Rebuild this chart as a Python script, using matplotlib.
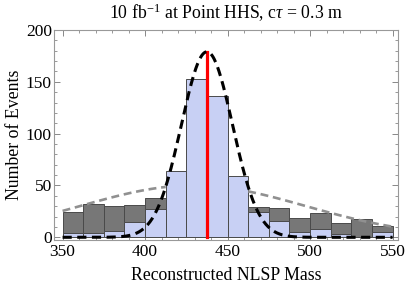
import matplotlib
matplotlib.use("Agg")
import matplotlib.pyplot as plt
import numpy as np

plt.rcParams['font.family'] = ['Liberation Serif', 'DejaVu Serif']
plt.rcParams['mathtext.fontset'] = 'custom'
plt.rcParams['mathtext.rm'] = 'Liberation Serif'
plt.rcParams['mathtext.it'] = 'Liberation Serif:italic'

# histogram bins (12.5 GeV wide)
bin_edges = [350, 362.5, 375, 387.5, 400, 412.5, 425, 437.5, 450,
             462.5, 475, 487.5, 500, 512.5, 525, 537.5, 550]
background = [24.2, 31.9, 30.0, 31.0, 37.7, 46, 48, 47, 44,
              28.9, 28.0, 19.0, 23.1, 13.9, 18.0, 11.0]
signal = [4.5, 4.5, 6.4, 15.1, 27.7, 63.8, 152.6, 136.0, 59.3,
          24.8, 15.8, 5.4, 7.7, 2.9, 0.0, 5.4]

# fitted curves
sig_amp, sig_mean, sig_width = 179.0, 437.5, 15.5
bkg_amp, bkg_mean, bkg_width = 50.0, 429.0, 68.0
window = (412.5, 462.5)
peak_mass = 437.5

def gauss(x, a, m, s):
    return a * np.exp(-(x - m) ** 2 / (2 * s ** 2))

fig = plt.figure(figsize=(4.05, 2.89), dpi=100)
ax = fig.add_axes([54/405, 1-240/289, (398-54)/405, (240-30)/289])

edges = np.array(bin_edges)
widths = np.diff(edges)
ax.bar(edges[:-1], background, width=widths, align='edge', color='#777777',
       edgecolor='#4a4a4a', linewidth=0.7, zorder=2)
ax.bar(edges[:-1], signal, width=widths, align='edge', color='#c8d0f4',
       edgecolor='#4a4a4a', linewidth=0.7, zorder=3)

# background fit in the sidebands
xl = np.linspace(350, window[0], 100)
xr = np.linspace(window[1], 550, 100)
for xs in (xl, xr):
    ax.plot(xs, gauss(xs, bkg_amp, bkg_mean, bkg_width), color='#909090',
            lw=1.9, dashes=(3, 1.8), zorder=4)

# signal fit
xs = np.linspace(350, 550, 600)
ax.plot(xs, gauss(xs, sig_amp, sig_mean, sig_width), color='black',
        lw=2.2, dashes=(3, 1.8), zorder=6)

ax.plot([peak_mass, peak_mass], [0, sig_amp], color='red', lw=2.3, zorder=5)

ax.set_xlim(344.8, 553.3)
ax.set_ylim(-2.6, 200)
ax.set_xticks([350, 400, 450, 500, 550])
ax.set_xticks(np.arange(350, 551, 10), minor=True)
ax.set_yticks([0, 50, 100, 150, 200])
ax.set_yticks(np.arange(0, 201, 10), minor=True)
ax.tick_params(which='both', direction='in', top=True, right=True,
               color='#888888', labelsize=12.5)
ax.tick_params(axis='x', pad=3)
ax.tick_params(axis='y', pad=1.5)
ax.tick_params(which='major', length=4, width=0.7)
ax.tick_params(which='minor', length=2, width=0.6)
for sp in ax.spines.values():
    sp.set_color('#999999')
    sp.set_linewidth(0.8)

ax.set_title(r'10 fb$^{-1}$ at Point HHS, c$\tau$ = 0.3 m', fontsize=12.8, pad=8)
ax.set_xlabel('Reconstructed NLSP Mass', fontsize=12.8, labelpad=5)
ax.set_ylabel('Number of Events', fontsize=12.8, labelpad=2)

fig.savefig('out.png', dpi=100)
